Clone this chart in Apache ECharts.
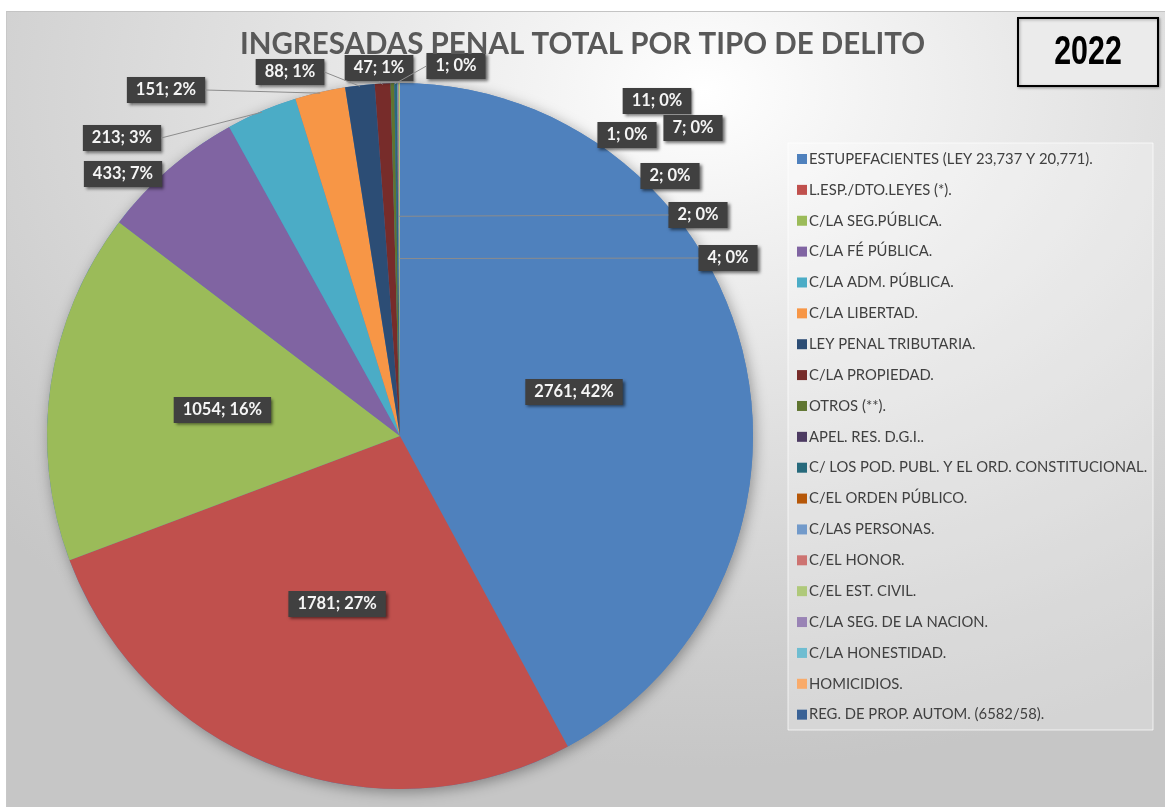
<!DOCTYPE html>
<html>
<head>
<meta charset="utf-8">
<script src="https://cdn.jsdelivr.net/npm/echarts@6/dist/echarts.min.js"></script>
<style>
  html, body { margin: 0; padding: 0; background: #fff; }
  #fondo {
    position: absolute; left: 6px; top: 11px; width: 1159px; height: 796px;
    border-top: 1px solid #c4c4c4; border-left: 1px solid #c8c8c8;
    background: radial-gradient(ellipse 80% 85% at 60% 10%, #ffffff 0%, #f3f3f3 18%, #e0e0e0 50%, #cdcdcd 85%, #c6c6c6 100%);
  }
  #main { position: absolute; left: 0; top: 0; width: 1165px; height: 807px; }
</style>
</head>
<body>
<div id="fondo"></div>
<div id="main"></div>
<script>
// tipos de delito (orden de la planilla)
const categorias = [
  'ESTUPEFACIENTES (LEY 23,737 Y 20,771).',
  'L.ESP./DTO.LEYES (*).',
  'C/LA SEG.PÚBLICA.',
  'C/LA FÉ PÚBLICA.',
  'C/LA ADM. PÚBLICA.',
  'C/LA LIBERTAD.',
  'LEY PENAL TRIBUTARIA.',
  'C/LA PROPIEDAD.',
  'OTROS (**).',
  'APEL. RES. D.G.I..',
  'C/ LOS POD. PUBL. Y EL ORD. CONSTITUCIONAL.',
  'C/EL ORDEN PÚBLICO.',
  'C/LAS PERSONAS.',
  'C/EL HONOR.',
  'C/EL EST. CIVIL.',
  'C/LA SEG. DE LA NACION.',
  'C/LA HONESTIDAD.',
  'HOMICIDIOS.',
  'REG. DE PROP. AUTOM. (6582/58).'
];
const ingresadas = [2761, 1781, 1054, 433, 213, 151, 88, 47, 11, 1, 7, 1, 2, 2, 4, 0, 0, 0, 0];

const colores = [
  '#4F81BD', '#C0504D', '#9BBB59', '#8064A2', '#4BACC6', '#F79646',
  '#2C4D75', '#772C2A', '#5F7530', '#4D3B62', '#276A7C', '#B65708',
  '#729ACA', '#CD7371', '#AFC97A', '#9983B5', '#6FBDD1', '#F9AB6B', '#3A6296'
];

const total = ingresadas.reduce((a, b) => a + b, 0);
const centro = [400, 436];
const radio = 353;

// etiquetas grandes dentro de la porcion
const adentro = [0, 1, 2];
// posicion de las etiquetas de afuera (centro del cuadro) y si llevan linea guia
const etiquetasAfuera = {
  3: [123, 174, false],
  4: [122, 138, true],
  5: [166, 90, true],
  6: [290, 72, true],
  7: [379, 68, true],
  8: [657, 101, false],
  9: [456, 66, true],
  10: [693, 128, false],
  11: [627, 135, false],
  12: [670, 176, false],
  13: [698, 215, true],
  14: [728, 258, true]
};

// angulo medio de cada porcion (horario desde arriba)
const angMedio = [];
let acum = 0;
ingresadas.forEach(v => {
  angMedio.push((acum + v / 2) / total * Math.PI * 2);
  acum += v;
});

// linea guia: del lado del cuadro al punto mas cercano sobre el radio medio de la porcion
function lineaGuia(i, pos, w, h) {
  const dx = Math.sin(angMedio[i]), dy = -Math.cos(angMedio[i]);
  const lados = [[pos[0] - w / 2, pos[1]], [pos[0] + w / 2, pos[1]], [pos[0], pos[1] - h / 2], [pos[0], pos[1] + h / 2]];
  let mejor = null, dmin = Infinity;
  lados.forEach(a => {
    let t = (a[0] - centro[0]) * dx + (a[1] - centro[1]) * dy;
    t = Math.max(0, Math.min(radio - 1, t));
    const p = [centro[0] + dx * t, centro[1] + dy * t];
    const d = Math.hypot(p[0] - a[0], p[1] - a[1]);
    if (d < dmin) { dmin = d; mejor = [p, a]; }
  });
  return mejor;
}

const guias = {};

const datos = categorias.map((nombre, i) => {
  let item = { name: nombre, value: ingresadas[i], itemStyle: { color: colores[i] } };
  if (ingresadas[i] === 0) {
    item.label = { show: false };
  } else if (adentro.indexOf(i) >= 0) {
    item.label = { position: 'inner' };
  } else {
    item.label = { position: 'outside' };
  }
  return item;
});

const chart = echarts.init(document.getElementById('main'));

const decorado = [
  {
    id: 'panel', type: 'rect', z: -1,
    shape: { x: 788, y: 143, width: 365, height: 587 },
    style: { fill: 'rgba(255,255,255,0.25)', stroke: 'rgba(255,255,255,0.7)', lineWidth: 1 }
  },
  {
    id: 'caja', type: 'rect',
    shape: { x: 1018, y: 18, width: 140, height: 68 },
    style: { fill: '#ebebeb', stroke: '#000', lineWidth: 2, shadowBlur: 3, shadowColor: 'rgba(0,0,0,0.3)', shadowOffsetX: 1, shadowOffsetY: 1 }
  },
  {
    id: 'anio', type: 'text',
    x: 1088, y: 53,
    scaleX: 0.76,
    style: {
      text: '2022', align: 'center', verticalAlign: 'middle',
      font: 'bold 40px "Liberation Sans", Arial, sans-serif',
      fill: '#000', shadowBlur: 2, shadowColor: 'rgba(0,0,0,0.35)', shadowOffsetY: 1
    }
  }
];

chart.setOption({
  animation: false,
  title: {
    text: 'INGRESADAS PENAL TOTAL POR TIPO DE DELITO',
    left: 'center',
    top: 24,
    textStyle: { fontFamily: 'Lato', fontWeight: 'bold', fontSize: 29.5, color: '#595959' }
  },
  legend: {
    orient: 'vertical',
    left: 797,
    top: 150,
    data: categorias,
    icon: 'rect',
    itemWidth: 10,
    itemHeight: 10,
    itemGap: 12.87,
    padding: 0,
    selectedMode: false,
    textStyle: { fontFamily: 'Lato', fontSize: 14.8, color: '#404040', lineHeight: 18, padding: [0, 0, 0, -3] }
  },
  graphic: decorado,
  series: [
    {
      // sombra del disco
      type: 'pie',
      silent: true,
      center: centro,
      radius: radio,
      z: 1,
      label: { show: false },
      labelLine: { show: false },
      itemStyle: { color: '#4F81BD', shadowBlur: 14, shadowColor: 'rgba(0,0,0,0.35)', shadowOffsetX: 2, shadowOffsetY: 3 },
      data: [{ name: 'total', value: total }]
    },
    {
      type: 'pie',
      center: centro,
      radius: radio,
      z: 2,
      startAngle: 90,
      clockwise: true,
      avoidLabelOverlap: false,
      itemStyle: { borderWidth: 0 },
      label: {
        formatter: (p) => p.value + '; ' + Math.round(p.value / total * 100) + '%',
        fontFamily: 'Lato',
        fontWeight: 'bold',
        fontSize: 16.5,
        color: '#f5f5f5',
        backgroundColor: '#404040',
        padding: [5, 9, 4, 9],
        shadowBlur: 3,
        shadowColor: 'rgba(0,0,0,0.55)',
        shadowOffsetX: 2,
        shadowOffsetY: 2
      },
      labelLine: { show: false },
      labelLayout: (p) => {
        const pos = etiquetasAfuera[p.dataIndex];
        if (!pos) return {};
        if (pos[2]) guias[p.dataIndex] = lineaGuia(p.dataIndex, pos, p.labelRect.width, p.labelRect.height);
        return { x: pos[0], y: pos[1], align: 'center', verticalAlign: 'middle' };
      },
      data: datos
    }
  ]
});

// lineas guia (grises, por encima de las porciones)
const lineas = Object.keys(guias).map(k => ({
  id: 'guia' + k,
  type: 'polyline',
  z: 3,
  silent: true,
  shape: { points: guias[k] },
  style: { stroke: '#8c8c8c', lineWidth: 1, fill: null }
}));
chart.setOption({ graphic: decorado.concat(lineas) });
</script>
</body>
</html>
